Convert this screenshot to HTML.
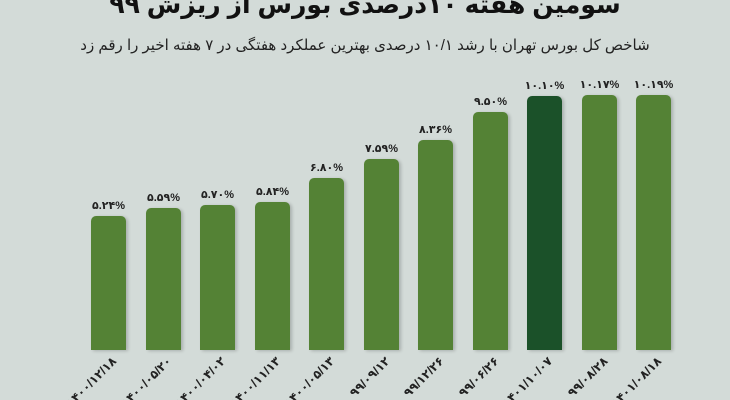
<!DOCTYPE html>
<html style="width:730px;height:400px;overflow:hidden"><head><meta charset="utf-8"><style>
html,body{margin:0;padding:0}
body{width:730px;height:400px;overflow:hidden;background:#d3dbd8;position:relative;font-family:"Liberation Sans","DejaVu Sans","Noto Sans CJK SC",sans-serif;}
.t{position:absolute;left:0;width:730px;text-align:center;direction:rtl;color:#111}
.bar{position:absolute;background:#548235;border-radius:5px 5px 0 0;box-shadow:2px 1px 3px rgba(0,0,0,.2)}
.v{position:absolute;width:60px;text-align:center;font-weight:bold;font-size:11px;color:#222;direction:ltr}
.d{position:absolute;font-weight:bold;font-size:12px;color:#222;white-space:nowrap;transform-origin:100% 50%;transform:rotate(-45deg);direction:ltr}
</style></head><body>
<div class="t" style="top:-10px;font-size:25px;font-weight:bold">سومین هفته ۱۰درصدی بورس از ریزش ۹۹</div>
<div class="t" style="top:36px;font-size:15px;color:#222">شاخص کل بورس تهران با رشد ۱۰/۱ درصدی بهترین عملکرد هفتگی در ۷ هفته اخیر را رقم زد</div>
<div id="c"></div>
<script>
var xs=[91,146,200,255,309,364,418,473,527,582,636];
var tops=[216,208,205,202,178,159,140,112,96,95,95];
var vals=["۵.۲۴%","۵.۵۹%","۵.۷۰%","۵.۸۴%","۶.۸۰%","۷.۵۹%","۸.۳۶%","۹.۵۰%","۱۰.۱۰%","۱۰.۱۷%","۱۰.۱۹%"];
var ds=["۱۴۰۰/۱۲/۱۸","۱۴۰۰/۰۵/۲۰","۱۴۰۰/۰۴/۰۲","۱۴۰۰/۱۱/۱۳","۱۴۰۰/۰۵/۱۳","۹۹/۰۹/۱۲","۹۹/۱۲/۲۶","۹۹/۰۶/۲۶","۱۴۰۱/۱۰/۰۷","۹۹/۰۸/۲۸","۱۴۰۱/۰۸/۱۸"];
var h="";
for(var i=0;i<11;i++){
 var x=xs[i],w=35;
 h+='<div class="bar" style="left:'+x+'px;top:'+tops[i]+'px;width:'+w+'px;height:'+(350-tops[i])+'px;'+(i==8?'background:#1b5129':'')+'"></div>';
 h+='<div class="v" style="left:'+(x+w/2-30)+'px;top:'+(tops[i]-17)+'px">'+vals[i]+'</div>';
 h+='<div class="d" style="right:'+(730-(x+w/2+6))+'px;top:352px">'+ds[i]+'</div>';
}
document.getElementById('c').innerHTML=h;
</script>
</body></html>
